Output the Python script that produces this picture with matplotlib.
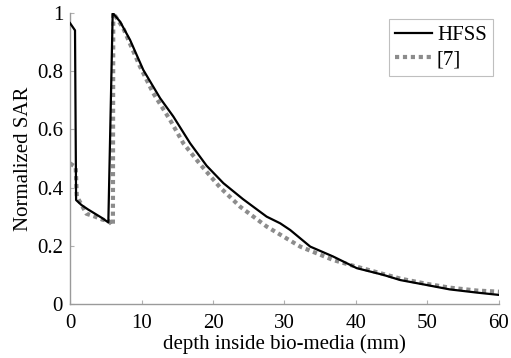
import matplotlib
matplotlib.use("Agg")
import matplotlib.pyplot as plt
from matplotlib.ticker import FuncFormatter

plt.rcParams['font.family'] = ['Liberation Serif', 'DejaVu Serif']

# HFSS curve
hfss_x = [0.0, 0.7, 0.85, 1.6, 2.5, 3.5, 4.5, 5.36, 5.97, 7.0, 8.4, 10.25, 12.6, 14.45,
          16.8, 19.1, 21.45, 24.2, 27.5, 29.4, 30.8, 33.6, 36.8, 39.2, 40.1, 43.8,
          46.2, 49.9, 53.1, 56.9, 60.0]
hfss_y = [0.965, 0.94, 0.357, 0.34, 0.325, 0.31, 0.295, 0.28, 1.0, 0.97, 0.907, 0.804, 0.707, 0.644,
          0.552, 0.475, 0.415, 0.36, 0.30, 0.277, 0.254, 0.197, 0.163, 0.134, 0.123, 0.100,
          0.082, 0.065, 0.050, 0.039, 0.031]

# Reference [7] curve
ref_x = [0.0, 0.8, 0.95, 2.3, 3.5, 4.5, 5.4, 6.0, 6.05, 7.45, 9.8, 11.65, 14.0, 15.85,
         18.2, 21.0, 23.8, 27.5, 32.2, 36.8, 39.2, 43.8, 46.2, 49.9, 53.1, 56.9, 60.0]
ref_y = [0.483, 0.47, 0.37, 0.31, 0.30, 0.29, 0.285, 0.27, 1.0, 0.947, 0.815, 0.724, 0.632, 0.552,
         0.48, 0.40, 0.334, 0.266, 0.197, 0.151, 0.134, 0.103,
         0.087, 0.069, 0.056, 0.046, 0.042]

x_ticks = [0, 10, 20, 30, 40, 50, 60]
y_ticks = [0, 0.2, 0.4, 0.6, 0.8, 1.0]

fig = plt.figure(figsize=(5.11, 3.58), dpi=100)
ax = fig.add_axes([0.137, 0.151, 0.8395, 0.813])

ax.plot(hfss_x, hfss_y, color='black', lw=1.6, label='HFSS', zorder=3)
ax.plot(ref_x, ref_y, color='#8c8c8c', lw=3.0, linestyle=(0, (1, 0.9)),
        dash_capstyle='butt', label='[7]', zorder=2)

ax.set_xlim(0, 60)
ax.set_ylim(0, 1)
ax.set_xticks(x_ticks)
ax.set_yticks(y_ticks)
ax.yaxis.set_major_formatter(FuncFormatter(lambda v, p: f"{v:g}"))

for s in ['top', 'right']:
    ax.spines[s].set_visible(False)
for s in ['left', 'bottom']:
    ax.spines[s].set_color('#9a9a9a')
    ax.spines[s].set_linewidth(1.0)

ax.tick_params(direction='in', length=3, width=0.8, color='#b0b0b0',
               labelsize=15, pad=5)
ax.tick_params(axis='x', pad=7)

ax.set_xlabel('depth inside bio-media (mm)', fontsize=15, labelpad=1)
ax.set_ylabel('Normalized SAR', fontsize=15, labelpad=3)

leg = ax.legend(loc='upper right', bbox_to_anchor=(0.986, 0.979), fontsize=15,
                frameon=True, fancybox=False, handlelength=1.75, handletextpad=0.25,
                borderpad=0.3, labelspacing=0.25, borderaxespad=0)
leg.get_frame().set_edgecolor('#b0b0b0')
leg.get_frame().set_linewidth(0.8)

fig.savefig('out.png', dpi=100)
